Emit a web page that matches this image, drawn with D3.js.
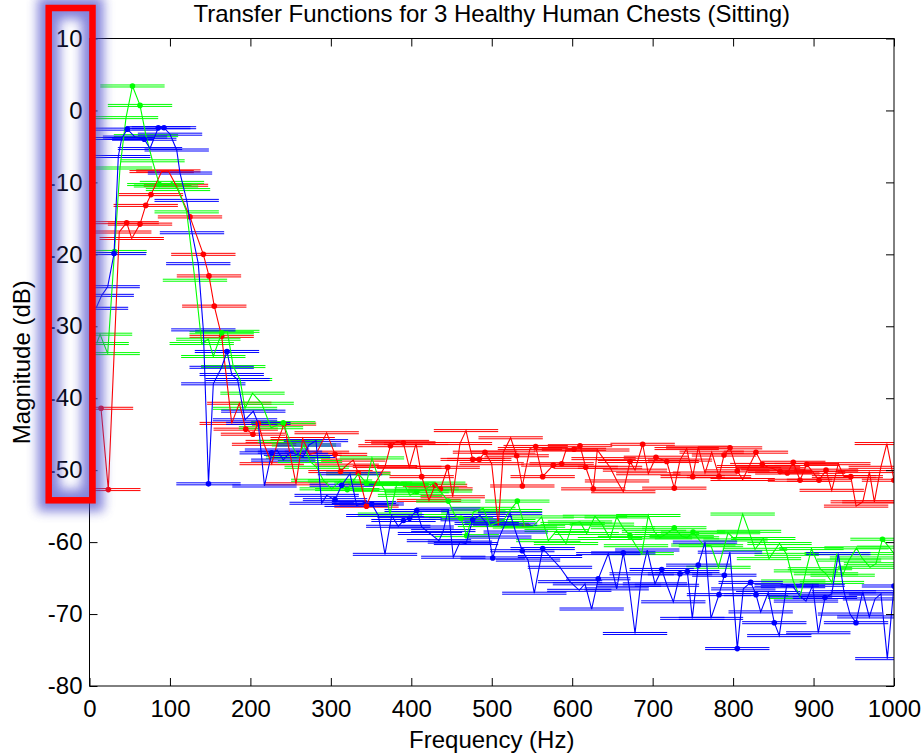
<!DOCTYPE html>
<html>
<head>
<meta charset="utf-8">
<script src="https://cdn.jsdelivr.net/npm/d3@7"></script>
<style>
  html, body { margin: 0; padding: 0; background: #fff; }
  svg { display: block; font-family: "Liberation Sans", Arial, sans-serif; }
</style>
</head>
<body>
<svg id="chart" width="922" height="756"></svg>
<script>
// Transfer-function magnitude per subject: [frequency Hz, magnitude dB, marker flag]
const red = [
  [14.3,-41.4,1],[23.4,-52.7,1],[37.0,-16.9,0],[46.2,-15.6,1],[52.5,-17.8,0],[62.8,-15.8,1],
  [69.9,-13.2,1],[76.4,-11.7,1],[89.7,-8.5,0],[98.0,-8.4,0],[107.5,-10.4,0],[124.9,-14.8,1],
  [141.5,-20.0,1],[148.5,-23.0,1],[155.1,-27.2,1],[164.3,-31.4,1],[176.8,-43.5,0],[186.2,-40.7,0],
  [194.2,-44.3,1],[203.2,-45.0,1],[209.8,-43.5,1],[217.0,-46.4,0],[226.5,-49.1,0],[234.0,-46.0,0],
  [241.8,-43.6,1],[256.7,-51.9,0],[265.0,-45.6,0],[273.5,-47.8,0],[282.8,-47.5,0],[294.8,-44.8,0],
  [305.2,-47.8,1],[312.0,-50.2,1],[319.7,-49.3,0],[327.9,-48.6,0],[334.1,-50.4,1],[344.3,-55.0,1],
  [354.9,-51.9,0],[367.3,-49.5,0],[374.1,-46.6,1],[382.2,-46.0,0],[390.1,-46.2,1],[397.5,-49.6,0],
  [405.9,-46.3,0],[412.9,-50.9,1],[422.0,-54.2,0],[429.5,-52.1,1],[436.3,-52.6,1],[445.2,-49.6,1],
  [451.5,-53.7,0],[460.5,-46.3,0],[468.0,-44.5,0],[476.3,-48.5,1],[484.5,-48.5,1],[491.6,-47.5,1],
  [499.9,-49.1,0],[508.1,-57.7,0],[514.4,-47.5,0],[523.5,-45.5,0],[531.0,-48.0,1],[538.0,-52.2,1],
  [547.5,-47.0,0],[554.6,-46.7,1],[563.3,-50.9,1],[576.5,-49.3,1],[586.9,-49.1,1],[592.3,-47.2,0],
  [602.2,-47.1,1],[609.7,-46.6,1],[616.8,-49.6,1],[626.2,-52.6,1],[631.2,-47.2,0],[639.0,-48.4,0],
  [647.0,-49.6,0],[655.7,-51.5,0],[663.5,-53.0,0],[671.9,-48.8,1],[678.1,-50.0,0],[687.6,-46.4,1],
  [694.6,-50.5,0],[704.1,-48.2,1],[717.5,-48.8,1],[726.9,-52.5,1],[734.0,-48.6,0],[742.3,-47.0,0],
  [749.8,-50.9,1],[756.7,-46.8,0],[765.1,-50.4,0],[773.4,-47.5,0],[782.5,-50.9,1],[788.7,-47.9,1],
  [796.2,-46.9,1],[805.2,-50.1,1],[811.9,-51.3,0],[819.8,-49.5,0],[828.4,-47.5,1],[836.3,-49.2,1],
  [843.4,-49.6,0],[850.0,-49.8,0],[858.3,-50.2,1],[867.4,-50.4,1],[874.8,-48.9,1],[883.2,-51.4,1],
  [891.5,-49.2,1],[899.4,-50.3,0],[906.8,-51.4,1],[915.5,-50.0,1],[922.6,-52.8,0],[930.8,-49.1,0],
  [937.9,-50.9,0],[946.3,-50.9,1],[952.9,-55.0,0],[961.2,-54.4,0],[969.4,-50.2,0],[975.6,-54.4,0],
  [983.6,-49.6,0],[991.1,-46.3,0],[1000,-51.4,1]
];

const green = [
  [8.9,-32.4,0],[13.1,-31.1,0],[22.6,-33.8,0],[31.1,-19.6,1],[37.9,-8.0,0],[45.4,-1.0,0],
  [53.4,3.4,1],[62.8,0.7,1],[70.2,-3.5,0],[78.3,-7.0,0],[86.8,-10.3,1],[95.1,-10.5,0],
  [102.5,-10.0,0],[110.0,-11.0,0],[120.8,-14.1,0],[131.1,-23.6,0],[139.5,-32.4,0],[147.7,-31.8,0],
  [153.9,-34.2,0],[164.3,-30.9,1],[171.3,-30.7,0],[178.7,-35.6,0],[187.1,-37.4,0],[193.3,-41.4,0],
  [202.6,-39.3,0],[214.0,-40.7,0],[225.6,-44.1,0],[240.9,-43.4,1],[249.2,-46.0,0],[259.2,-48.2,0],
  [266.6,-46.5,0],[274.1,-48.8,0],[282.4,-49.6,0],[290.6,-51.4,0],[301.1,-52.6,0],[311.4,-51.5,0],
  [320.4,-52.7,1],[334.1,-50.5,0],[344.3,-51.8,1],[351.1,-48.3,0],[361.1,-51.8,0],[367.3,-52.8,0],
  [373.5,-56.1,0],[381.8,-52.0,0],[390.3,-51.8,0],[398.4,-53.5,0],[406.7,-53.0,1],[419.1,-52.6,0],
  [427.3,-51.8,0],[435.7,-52.9,0],[446.0,-54.3,1],[454.3,-56.3,0],[461.8,-56.7,1],[468.9,-59.1,1],
  [477.1,-55.8,0],[489.5,-55.3,0],[497.8,-57.7,0],[506.1,-57.3,0],[514.4,-57.0,0],[522.7,-55.6,0],
  [531.8,-54.3,1],[541.3,-57.9,0],[551.3,-57.8,0],[562.1,-56.5,0],[570.3,-59.8,0],[580.7,-58.4,0],
  [592.3,-60.2,0],[600.6,-57.4,0],[609.7,-57.2,0],[618.0,-58.8,0],[628.3,-56.4,0],[637.0,-57.5,0],
  [647.0,-59.5,0],[655.3,-56.5,0],[663.1,-58.0,0],[671.8,-59.1,1],[679.3,-60.5,0],[686.4,-61.6,0],
  [694.6,-56.3,0],[701.7,-58.5,0],[709.1,-59.4,0],[717.8,-58.8,0],[726.9,-58.0,1],[736.1,-59.2,0],
  [742.7,-59.4,0],[750.2,-58.6,1],[763.0,-60.4,0],[772.5,-60.5,0],[781.8,-63.5,0],[793.7,-58.7,0],
  [803.0,-59.7,0],[811.9,-56.1,0],[819.8,-58.5,0],[827.2,-61.0,0],[837.5,-59.5,0],[844.6,-62.3,0],
  [857.7,-60.2,0],[866.6,-61.7,0],[874.8,-65.4,0],[883.2,-67.7,0],[890.6,-64.0,0],[897.4,-60.9,0],
  [908.0,-63.7,0],[915.5,-64.4,0],[922.9,-65.6,0],[928.8,-61.6,0],[936.2,-64.6,0],[944.1,-62.5,0],
  [953.4,-60.8,0],[960.2,-62.2,0],[970.2,-63.5,0],[977.6,-63.0,0],[985.7,-59.6,1],[993.8,-60.7,0],
  [1000,-61.6,0]
];

const blue = [
  [8.1,-27.5,0],[15.2,-25.7,0],[22.6,-24.5,0],[30.5,-19.9,1],[35.8,-6.4,0],[40.0,-3.9,0],
  [47.0,-2.6,1],[56.6,-3.7,0],[68.1,-4.0,1],[75.2,-5.3,0],[85.5,-2.4,1],[92.6,-2.4,1],
  [100.1,-3.3,0],[108.4,-5.5,0],[112.5,-8.7,0],[120.8,-12.5,0],[127.4,-17.0,0],[135.2,-21.3,0],
  [141.5,-30.5,0],[147.9,-51.9,1],[153.9,-38.0,0],[164.3,-35.7,0],[170.9,-33.5,1],[176.8,-36.7,0],
  [184.0,-37.4,0],[193.3,-43.0,0],[203.6,-41.8,0],[209.8,-43.5,0],[217.5,-52.2,0],[226.5,-47.6,1],
  [233.1,-47.2,0],[240.9,-48.6,0],[249.2,-47.5,0],[256.7,-47.8,0],[265.8,-48.1,0],[272.8,-46.5,0],
  [281.5,-45.9,0],[288.6,-54.6,0],[294.8,-53.5,0],[305.2,-54.1,1],[313.5,-52.1,1],[323.8,-50.5,0],
  [332.1,-54.9,0],[341.2,-54.5,0],[350.8,-54.7,1],[359.0,-56.3,0],[367.3,-61.7,0],[375.6,-56.3,0],
  [383.8,-57.8,0],[390.3,-57.0,1],[397.8,-56.7,1],[406.7,-55.6,1],[412.9,-57.9,0],[423.2,-58.8,0],
  [434.4,-59.8,0],[439.8,-58.4,0],[446.0,-55.4,0],[452.2,-62.1,0],[460.5,-60.0,0],[468.0,-60.2,0],
  [476.3,-56.9,1],[485.4,-56.3,0],[493.7,-57.4,0],[501.2,-62.2,1],[509.4,-59.3,0],[516.5,-57.5,0],
  [522.7,-56.0,0],[529.8,-58.6,0],[538.0,-61.2,1],[545.1,-62.5,0],[552.9,-67.1,0],[563.3,-60.9,1],
  [572.4,-62.0,0],[584.8,-63.5,0],[597.3,-65.5,0],[608.8,-66.7,0],[615.9,-65.8,0],[624.2,-69.3,0],
  [632.4,-65.1,1],[644.9,-61.6,0],[655.3,-66.5,0],[663.5,-61.5,1],[670.6,-66.0,0],[678.1,-72.7,0],
  [686.4,-64.4,0],[693.3,-61.1,0],[702.9,-65.8,0],[711.3,-63.8,1],[717.8,-66.0,0],[725.7,-68.3,0],
  [734.0,-64.4,1],[743.1,-64.1,1],[749.3,-70.6,0],[756.7,-63.2,1],[765.1,-60.0,0],[772.5,-70.6,0],
  [782.5,-67.3,1],[789.1,-64.6,1],[796.1,-61.4,0],[805.2,-74.8,1],[812.7,-66.5,0],[821.9,-65.6,1],
  [828.5,-67.3,1],[834.3,-69.7,0],[843.7,-67.0,0],[851.2,-71.2,1],[857.4,-73.0,0],[866.6,-66.0,0],
  [874.5,-66.2,0],[883.2,-67.5,0],[890.6,-68.2,0],[898.9,-66.0,0],[905.9,-72.6,0],[914.2,-67.7,1],
  [922.6,-67.2,0],[930.8,-61.6,0],[937.8,-66.9,0],[945.3,-70.0,0],[952.8,-71.2,1],[961.1,-66.9,0],
  [969.3,-70.4,0],[976.4,-67.9,0],[983.8,-67.2,0],[991.7,-76.2,0],[1000,-66.1,1]
];

// Frequency resolution of each estimate (half-width of the horizontal bars, Hz)
const freqHalfWidth = 40;

const xTicks = [0, 100, 200, 300, 400, 500, 600, 700, 800, 900, 1000];
const yTicks = [-80, -70, -60, -50, -40, -30, -20, -10, 0, 10];

const titleText = "Transfer Functions for 3 Healthy Human Chests (Sitting)";
const xLabel = "Frequency (Hz)";
const yLabel = "Magnitude (dB)";

const series = [
  { name: "Subject 1", color: "#ff0000", data: red },
  { name: "Subject 2", color: "#00ff00", data: green },
  { name: "Subject 3", color: "#0000ff", data: blue }
];

// ---- layout ----
const plot = { left: 89.5, right: 894, top: 38.5, bottom: 686 };
const FONT = 24;
const plainNumber = d => String(d);   // ASCII hyphen for negatives

const svg = d3.select("#chart");
const x = d3.scaleLinear().domain([0, 1000]).range([plot.left, plot.right]);
const y = d3.scaleLinear().domain([-80, 10]).range([plot.bottom, plot.top]);

const defs = svg.append("defs");
defs.append("clipPath").attr("id", "plot-clip")
  .append("rect")
  .attr("x", plot.left).attr("y", plot.top)
  .attr("width", plot.right - plot.left).attr("height", plot.bottom - plot.top);

const glow = defs.append("filter").attr("id", "glow")
  .attr("x", "-60%").attr("y", "-10%").attr("width", "220%").attr("height", "120%");
glow.append("feGaussianBlur").attr("stdDeviation", 5.5);

// ---- data layer ----
const dataLayer = svg.append("g").attr("clip-path", "url(#plot-clip)");

// horizontal resolution bars
series.forEach(s => {
  const g = dataLayer.append("g").attr("stroke", s.color).attr("stroke-width", 1).attr("fill", "none");
  [-1, 1].forEach(off => {
    g.selectAll(null).data(s.data).join("line")
      .attr("x1", d => x(d[0] - freqHalfWidth))
      .attr("x2", d => x(d[0] + freqHalfWidth))
      .attr("y1", d => y(d[1]) + off)
      .attr("y2", d => y(d[1]) + off);
  });
});

// magnitude curves and markers
const line = d3.line().x(d => x(d[0])).y(d => y(d[1]));
series.forEach(s => {
  dataLayer.append("path")
    .datum(s.data)
    .attr("d", line)
    .attr("fill", "none")
    .attr("stroke", s.color)
    .attr("stroke-width", 1.1)
    .attr("stroke-linejoin", "miter");
  dataLayer.append("g").attr("fill", s.color)
    .selectAll("circle").data(s.data.filter(d => d[2] === 1)).join("circle")
    .attr("cx", d => x(d[0]))
    .attr("cy", d => y(d[1]))
    .attr("r", 2.8);
});

// ---- axes (inward ticks on all four sides) ----
const TICK = 8;
const axisStyle = g => {
  g.select(".domain").remove();
  g.selectAll(".tick line").attr("stroke", "#000");
  g.selectAll(".tick text").attr("fill", "#000").style("font-size", FONT + "px")
    .style("font-family", "\"Liberation Sans\", Arial, sans-serif");
};

svg.append("g").attr("transform", `translate(0,${plot.bottom})`)
  .call(d3.axisBottom(x).tickValues(xTicks).tickSize(-TICK).tickPadding(14).tickFormat(plainNumber))
  .call(axisStyle);
svg.append("g").attr("transform", `translate(0,${plot.top})`)
  .call(d3.axisTop(x).tickValues(xTicks).tickSize(-TICK).tickFormat(""))
  .call(axisStyle);
svg.append("g").attr("transform", `translate(${plot.left},0)`)
  .call(d3.axisLeft(y).tickValues(yTicks).tickSize(-TICK).tickPadding(7).tickFormat(plainNumber))
  .call(axisStyle);
svg.append("g").attr("transform", `translate(${plot.right},0)`)
  .call(d3.axisRight(y).tickValues(yTicks).tickSize(-TICK).tickFormat(""))
  .call(axisStyle);

svg.append("rect")
  .attr("x", plot.left).attr("y", plot.top)
  .attr("width", plot.right - plot.left).attr("height", plot.bottom - plot.top)
  .attr("fill", "none").attr("stroke", "#000").attr("stroke-width", 1);

// ---- titles ----
svg.append("text")
  .attr("x", (plot.left + plot.right) / 2).attr("y", 22)
  .attr("text-anchor", "middle").style("font-size", FONT + "px").attr("fill", "#000")
  .text(titleText);

svg.append("text")
  .attr("x", (plot.left + plot.right) / 2).attr("y", 748)
  .attr("text-anchor", "middle").style("font-size", FONT + "px").attr("fill", "#000")
  .text(xLabel);

svg.append("text")
  .attr("transform", `translate(30,${(plot.top + plot.bottom) / 2}) rotate(-90)`)
  .attr("text-anchor", "middle").style("font-size", FONT + "px").attr("fill", "#000")
  .text(yLabel);

// ---- highlight around the magnitude scale ----
const box = { x: 48.7, y: 8, w: 43.8, h: 492.3 };
svg.append("rect")
  .attr("x", box.x).attr("y", box.y).attr("width", box.w).attr("height", box.h)
  .attr("fill", "none").attr("stroke", "#5050cc").attr("stroke-width", 22)
  .attr("opacity", 0.7).attr("filter", "url(#glow)");
svg.append("rect")
  .attr("x", box.x).attr("y", box.y).attr("width", box.w).attr("height", box.h)
  .attr("fill", "none").attr("stroke", "#ff0000").attr("stroke-width", 6.5);
</script>
</body>
</html>
